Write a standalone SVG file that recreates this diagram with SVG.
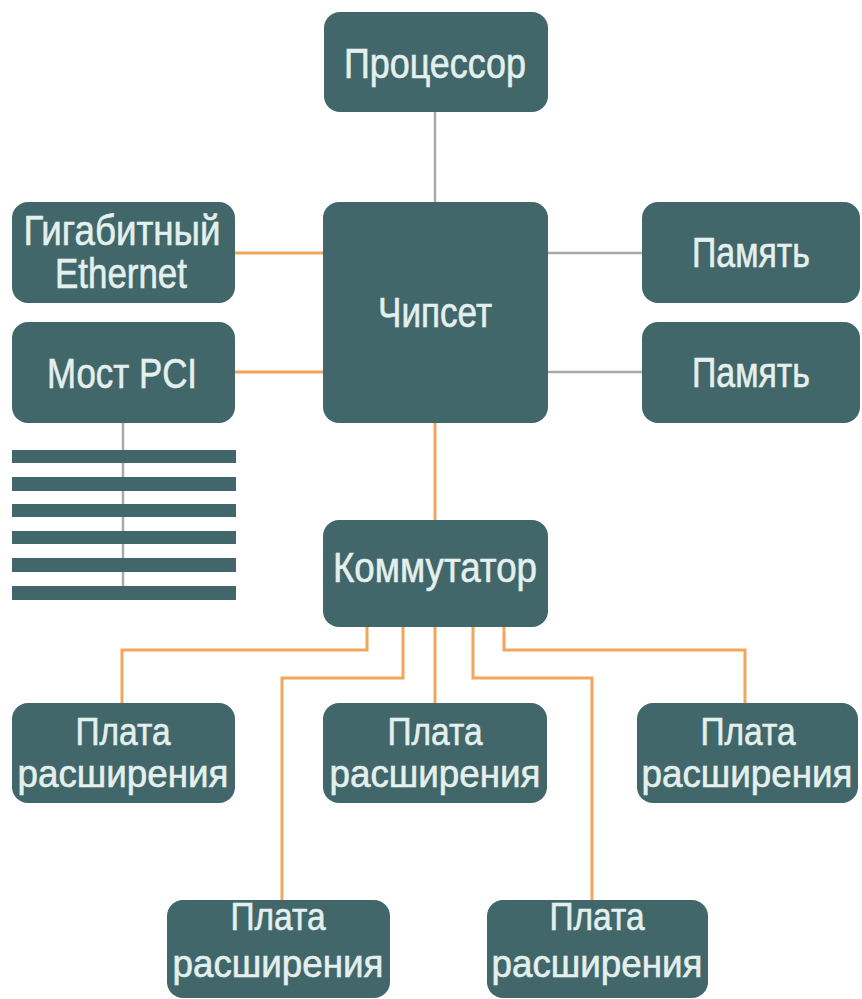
<svg xmlns="http://www.w3.org/2000/svg" width="862" height="999" viewBox="0 0 862 999">
  <style>
    .box { fill: #42676a; }
    .lbl { font-family: "Liberation Sans", Arial, sans-serif; font-size: 42px; fill: #e3f0ed; stroke: #e3f0ed; stroke-width: 0.6; text-anchor: middle; }
    .sm { font-size: 38px; }
    .gray { stroke: #a9a9a9; stroke-width: 2.5; fill: none; }
    .orange { stroke: #f2a65a; stroke-width: 3; fill: none; }
    .bar { fill: #42676a; }
  </style>
  <rect width="862" height="999" fill="#ffffff"/>

  <!-- connectors -->
  <g id="connectors">
    <line class="gray" x1="435" y1="112" x2="435" y2="202"/>
    <line class="gray" x1="548" y1="253" x2="642" y2="253"/>
    <line class="gray" x1="548" y1="372" x2="642" y2="372"/>
    <line class="orange" x1="235" y1="253" x2="323" y2="253"/>
    <line class="orange" x1="235" y1="372" x2="323" y2="372"/>
    <line class="gray" x1="123" y1="423" x2="123" y2="586"/>
    <line class="orange" x1="435" y1="423" x2="435" y2="520"/>
    <polyline class="orange" points="367,627 367,650 122,650 122,703"/>
    <polyline class="orange" points="403,627 403,678 282,678 282,900"/>
    <line class="orange" x1="435" y1="627" x2="435" y2="703"/>
    <polyline class="orange" points="473,627 473,678 592,678 592,900"/>
    <polyline class="orange" points="504,627 504,650 745,650 745,703"/>
  </g>

  <!-- PCI bus slots -->
  <g id="pci-bus">
    <rect class="bar" x="12" y="450" width="224" height="13"/>
    <rect class="bar" x="12" y="477" width="224" height="14"/>
    <rect class="bar" x="12" y="504" width="224" height="13"/>
    <rect class="bar" x="12" y="531" width="224" height="13"/>
    <rect class="bar" x="12" y="558" width="224" height="14"/>
    <rect class="bar" x="12" y="586" width="224" height="14"/>
  </g>

  <g id="cpu">
    <rect class="box" x="324" y="12" width="224" height="100" rx="16"/>
    <text class="lbl" x="435" y="78" textLength="182" lengthAdjust="spacingAndGlyphs">Процессор</text>
  </g>

  <g id="ethernet">
    <rect class="box" x="12" y="202" width="223" height="101" rx="16"/>
    <text class="lbl" x="122" y="245" textLength="197" lengthAdjust="spacingAndGlyphs">Гигабитный</text>
    <text class="lbl" x="121" y="288" textLength="132" lengthAdjust="spacingAndGlyphs">Ethernet</text>
  </g>

  <g id="pci-bridge">
    <rect class="box" x="12" y="322" width="223" height="101" rx="16"/>
    <text class="lbl" x="122" y="388" textLength="150" lengthAdjust="spacingAndGlyphs">Мост PCI</text>
  </g>

  <g id="chipset">
    <rect class="box" x="323" y="202" width="225" height="221" rx="16"/>
    <text class="lbl" x="435" y="327" textLength="114" lengthAdjust="spacingAndGlyphs">Чипсет</text>
  </g>

  <g id="memory-1">
    <rect class="box" x="642" y="202" width="218" height="101" rx="16"/>
    <text class="lbl" x="751" y="267" textLength="118" lengthAdjust="spacingAndGlyphs">Память</text>
  </g>

  <g id="memory-2">
    <rect class="box" x="642" y="322" width="218" height="101" rx="16"/>
    <text class="lbl" x="751" y="387" textLength="118" lengthAdjust="spacingAndGlyphs">Память</text>
  </g>

  <g id="switch">
    <rect class="box" x="323" y="520" width="225" height="107" rx="16"/>
    <text class="lbl" x="435" y="582" textLength="204" lengthAdjust="spacingAndGlyphs">Коммутатор</text>
  </g>

  <g id="card-1">
    <rect class="box" x="12" y="703" width="223" height="100" rx="16"/>
    <text class="lbl sm" x="123" y="745" textLength="95" lengthAdjust="spacingAndGlyphs">Плата</text>
    <text class="lbl sm" x="123" y="787" textLength="211" lengthAdjust="spacingAndGlyphs">расширения</text>
  </g>

  <g id="card-2">
    <rect class="box" x="323" y="703" width="224" height="100" rx="16"/>
    <text class="lbl sm" x="435" y="745" textLength="95" lengthAdjust="spacingAndGlyphs">Плата</text>
    <text class="lbl sm" x="435" y="787" textLength="211" lengthAdjust="spacingAndGlyphs">расширения</text>
  </g>

  <g id="card-3">
    <rect class="box" x="637" y="703" width="221" height="100" rx="16"/>
    <text class="lbl sm" x="748" y="745" textLength="95" lengthAdjust="spacingAndGlyphs">Плата</text>
    <text class="lbl sm" x="747" y="787" textLength="211" lengthAdjust="spacingAndGlyphs">расширения</text>
  </g>

  <g id="card-4">
    <rect class="box" x="167" y="900" width="223" height="98" rx="16"/>
    <text class="lbl sm" x="278" y="930" textLength="95" lengthAdjust="spacingAndGlyphs">Плата</text>
    <text class="lbl sm" x="278" y="977" textLength="211" lengthAdjust="spacingAndGlyphs">расширения</text>
  </g>

  <g id="card-5">
    <rect class="box" x="487" y="900" width="221" height="98" rx="16"/>
    <text class="lbl sm" x="597" y="930" textLength="95" lengthAdjust="spacingAndGlyphs">Плата</text>
    <text class="lbl sm" x="597" y="977" textLength="211" lengthAdjust="spacingAndGlyphs">расширения</text>
  </g>
</svg>
